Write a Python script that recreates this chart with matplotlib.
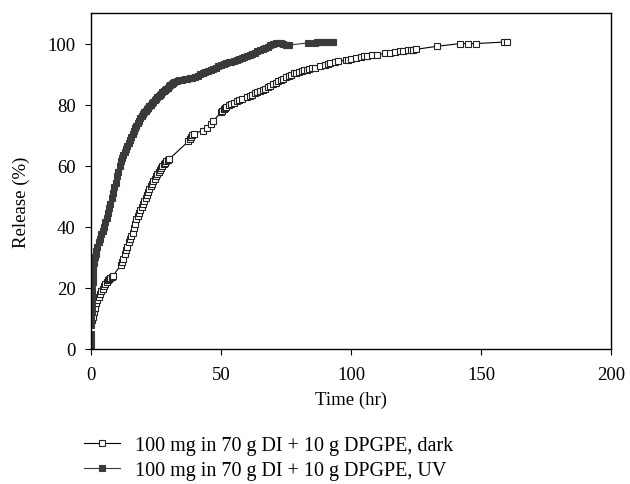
import numpy as np
import matplotlib.pyplot as plt

plt.rcParams['font.family'] = ['Liberation Serif', 'DejaVu Serif']

# ---------- data ----------
dark_t = [0.3, 0.6, 1.0, 1.5, 2.0, 2.5, 3.0, 3.5, 4.0, 4.5, 5.0, 5.5, 6.0, 6.5, 7.0, 7.5, 8.0, 8.5,
          11.5, 12.0, 12.5, 13.0, 13.5, 14.0, 14.5, 15.0, 15.5, 16.0, 16.5, 17.0, 17.5, 18.0, 18.5,
          19.0, 19.5, 20.0, 20.5, 21.0, 21.5, 22.0, 22.5, 23.0, 23.5, 24.0, 24.5, 25.0, 25.5, 26.0,
          26.5, 27.0, 27.5, 28.0, 28.5, 29.0, 29.5, 30.0,
          37.5, 38.0, 38.5, 39.0, 39.5, 43, 44.5, 46, 47, 50, 50.5, 51, 51.5, 52, 53, 54, 55, 56, 57,
          58, 60, 61, 62, 63, 64, 65, 66, 67, 68, 69, 70, 71, 72, 73, 74, 75, 76, 77, 78, 79, 80,
          81, 82, 83, 84, 85, 86, 88, 90, 91, 92, 94, 95, 98, 99, 100, 102, 104, 105, 106, 108, 110,
          113, 115, 117, 119, 120, 122, 123, 124, 125, 133, 142, 145, 148, 159, 160]
dark_y = [9.5, 10.5, 12.0, 13.5, 15.0, 16.0, 17.0, 18.0, 19.0, 19.8, 20.5, 21.2, 22.0, 22.5, 23.0, 23.4, 23.7, 24.0,
          27.5, 28.5, 29.5, 31.0, 32.5, 33.5, 35.0, 36.0, 37.0, 38.0, 39.5, 41.0, 42.5, 43.5, 44.5,
          45.5, 46.5, 47.5, 48.5, 49.5, 50.5, 51.5, 52.5, 53.3, 54.0, 55.0, 55.8, 56.5, 57.3, 58.0,
          58.7, 59.3, 60.0, 60.5, 61.0, 61.5, 61.8, 62.1,
          68.0, 68.6, 69.3, 70.0, 70.5, 71.5, 72.4, 73.5, 74.6, 77.5, 78.0, 78.5, 79.0, 79.3, 79.8, 80.3, 80.7, 81.2, 81.6,
          82.0, 82.5, 82.9, 83.3, 83.7, 84.1, 84.5, 84.9, 85.2, 85.7, 86.2, 86.7, 87.2, 87.7, 88.1, 88.5, 89.0, 89.4, 89.8, 90.2, 90.5, 90.8,
          91.1, 91.3, 91.5, 91.8, 92.0, 92.1, 92.5, 93.0, 93.4, 93.7, 94.0, 94.2, 94.5, 94.7, 94.9, 95.3, 95.6, 95.8, 96.0, 96.2, 96.4,
          96.8, 97.0, 97.1, 97.4, 97.5, 97.8, 97.9, 98.0, 98.1, 99.1, 100.0, 100.0, 100.0, 100.5, 100.5]

uv_t = [0.0, 0.05, 0.1, 0.15, 0.2, 0.25, 0.3, 0.35, 0.4, 0.5, 0.6, 0.7, 0.8, 0.9, 1.0, 1.25, 1.5, 1.75,
        2.0, 2.5, 3.0, 3.5, 4.0, 4.5, 5.0, 5.5, 6.0, 6.5, 7.0, 7.5, 8.0, 8.5, 9.0, 9.5, 10.0, 10.5,
        11.0, 11.5, 12.0, 12.5, 13.0, 13.5, 14.0, 14.5, 15.0, 15.5, 16.0, 16.5, 17.0, 17.5, 18.0,
        18.5, 19.0, 19.5, 20.0, 20.5, 21.0, 21.5, 22.0, 22.5, 23.0, 23.5, 24.0, 24.5, 25.0, 25.5,
        26.0, 26.5, 27.0, 27.5, 28.0, 28.5, 29.0, 29.5, 30.0, 30.5, 31.0, 31.5, 32.0, 33, 34, 35,
        36, 37, 38, 39, 40, 41, 42, 43, 44, 45, 46, 47, 48, 49, 50, 51, 52, 53, 54, 55, 56, 57, 58,
        59, 60, 61, 62, 63, 64, 65, 66, 67, 68, 69, 70, 71, 72, 73, 74, 75, 76, 83.5, 86, 87, 88,
        89, 90, 91, 92, 93]
uv_y = [1.0, 3.0, 5.0, 8.0, 10.0, 12.0, 14.0, 16.0, 18.0, 20.0, 22.0, 24.0, 25.5, 27.0, 28.0, 29.0, 30.0, 31.0,
        32.0, 33.5, 35.0, 36.0, 37.5, 38.5, 40.0, 41.5, 43.0, 44.5, 46.0, 47.5, 49.5, 51.0, 53.0, 54.5, 56.5, 58.0,
        60.0, 61.5, 62.5, 63.5, 64.5, 65.5, 66.5, 67.5, 68.5, 69.5, 70.5, 71.5, 72.3, 73.0, 74.0,
        74.8, 75.5, 76.2, 77.0, 77.5, 78.0, 78.5, 79.0, 79.5, 80.0, 80.5, 81.0, 81.5, 82.0, 82.4,
        82.8, 83.2, 83.6, 84.0, 84.4, 84.8, 85.2, 85.6, 86.0, 86.4, 86.8, 87.1, 87.4, 87.8, 88.0, 88.2,
        88.3, 88.4, 88.6, 88.8, 89.2, 89.5, 89.9, 90.3, 90.7, 91.0, 91.3, 91.6, 92.0, 92.5, 93.0, 93.3, 93.6, 93.8, 94.0, 94.3, 94.7, 95.0, 95.3,
        95.6, 95.9, 96.2, 96.6, 97.0, 97.4, 97.8, 98.2, 98.6, 99.0, 99.4, 99.8, 100.1, 100.3, 100.1, 99.7, 99.4, 99.5, 100.2, 100.3, 100.4, 100.4,
        100.4, 100.5, 100.5, 100.5, 100.5]

labels = ["100 mg in 70 g DI + 10 g DPGPE, dark", "100 mg in 70 g DI + 10 g DPGPE, UV"]

# ---------- plot ----------
fig = plt.figure(figsize=(6.3, 4.85), dpi=100)
ax = fig.add_axes([0.1444, 0.2784, 0.8254, 0.6927])

gray = "#3a3a3a"
ax.plot(dark_t, dark_y, "-", color="black", lw=0.8, marker="s", ms=4,
        mfc="white", mec="#222222", mew=0.8, label=labels[0])
ax.plot(uv_t, uv_y, "-", color=gray, lw=0.8, marker="s", ms=4,
        mfc=gray, mec=gray, mew=0.8, label=labels[1])

ax.set_xlim(0, 200)
ax.set_ylim(0, 110)
ax.set_xticks([0, 50, 100, 150, 200])
ax.set_yticks([0, 20, 40, 60, 80, 100])
ax.tick_params(direction="out", length=4, width=0.8, labelsize=13.5, colors="black")
ax.tick_params(axis="x", pad=8)
ax.tick_params(axis="y", pad=7)
for s in ax.spines.values():
    s.set_linewidth(1.0)
ax.set_xlabel("Time (hr)", fontsize=13.5)
ax.set_ylabel("Release (%)", fontsize=13.5)
ax.xaxis.set_label_coords(0.5, -0.125)
ax.yaxis.set_label_coords(-0.118, 0.44)

fig.legend(loc="upper left", bbox_to_anchor=(0.133, 0.1), frameon=False, fontsize=14.5,
           handlelength=1.8, handletextpad=0.75, labelspacing=0.3, borderpad=0,
           borderaxespad=0)

fig.savefig("out.png", dpi=100)
